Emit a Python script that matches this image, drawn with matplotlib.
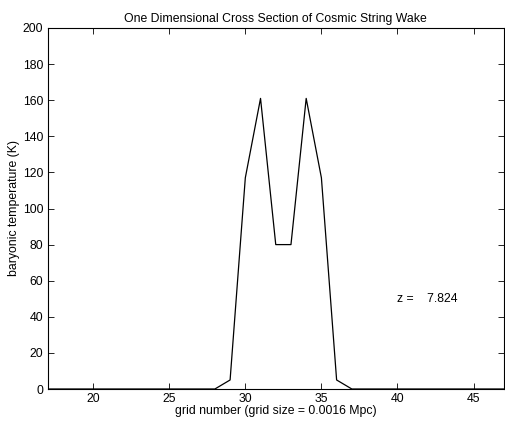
import matplotlib
matplotlib.use("Agg")
import matplotlib.pyplot as plt

grid = list(range(17, 48))
temp = [0]*11 + [0, 5, 117, 161, 80, 80, 161, 117, 5, 0] + [0]*10
# grid 17..27 zeros, 28..37 values, 38..47 zeros

xticks = [20, 25, 30, 35, 40, 45]
yticks = [0, 20, 40, 60, 80, 100, 120, 140, 160, 180, 200]

FS = 8.8
plt.rcParams['font.family'] = ['Liberation Sans', 'DejaVu Sans']
fig = plt.figure(figsize=(5.05, 4.25), dpi=100)
W, H = 505, 425
ax = fig.add_axes([47.5/W, (H-389)/H, (504-47.5)/W, (389-28)/H])
ax.plot(grid, temp, color='black', linewidth=0.9)
ax.set_xlim(17, 47)
ax.set_ylim(0, 200)
ax.set_xticks(xticks)
ax.set_yticks(yticks)
ax.tick_params(direction='in', top=True, right=True, labelsize=FS, length=4, width=0.6, pad=3)
for s in ax.spines.values():
    s.set_linewidth(0.8)
ax.set_xlabel('grid number (grid size = 0.0016 Mpc)', fontsize=FS, labelpad=0)
ax.set_ylabel('baryonic temperature (K)', fontsize=FS, labelpad=2)
ax.set_title('One Dimensional Cross Section of Cosmic String Wake', fontsize=FS, pad=4)
ax.text(40, 50, 'z =    7.824', fontsize=FS, ha='left', va='center')
fig.savefig('out.png', dpi=100)
